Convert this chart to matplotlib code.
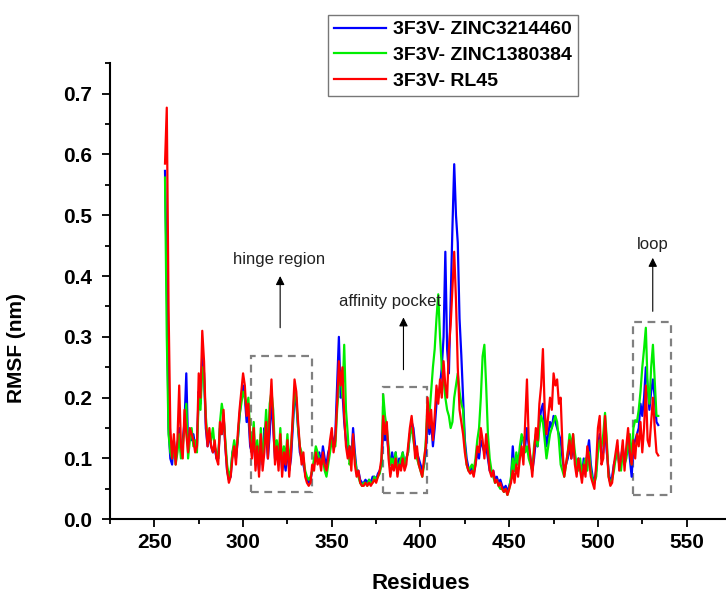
import numpy as np
import matplotlib
matplotlib.use('Agg')
import matplotlib.pyplot as plt
from matplotlib.patches import Rectangle

plt.rcParams['font.family'] = ['Liberation Sans', 'DejaVu Sans']

residues = np.arange(256, 535)

rmsf_zinc3214460 = [
    .573, .40, .15, .10, .09, .13, .10, .12, .15, .11,
    .13, .16, .24, .12, .14, .13, .14, .12, .12, .21,
    .19, .27, .24, .15, .12, .14, .12, .11, .12, .10,
    .10, .15, .14, .17, .12, .08, .065, .07, .11, .12,
    .10, .13, .17, .20, .22, .20, .16, .17, .12, .11,
    .13, .09, .11, .08, .13, .09, .15, .14, .10, .14,
    .20, .15, .10, .11, .09, .13, .08, .10, .08, .12,
    .08, .10, .15, .20, .19, .15, .11, .10, .09, .075,
    .065, .06, .065, .08, .09, .10, .10, .11, .09, .12,
    .10, .09, .11, .12, .14, .12, .14, .22, .30, .20,
    .21, .16, .13, .11, .12, .10, .15, .11, .08, .08,
    .065, .06, .06, .065, .06, .065, .06, .07, .07, .065,
    .075, .08, .09, .15, .13, .14, .11, .09, .11, .09,
    .11, .08, .10, .09, .11, .09, .10, .11, .14, .16,
    .15, .12, .11, .10, .09, .08, .09, .11, .17, .14,
    .16, .12, .15, .19, .20, .22, .25, .30, .44, .28,
    .24, .36, .48, .584, .50, .455, .33, .27, .20, .13,
    .10, .085, .08, .085, .075, .09, .11, .10, .13, .12,
    .11, .12, .10, .08, .075, .08, .065, .07, .06, .065,
    .055, .05, .055, .045, .055, .065, .12, .08, .10, .09,
    .11, .13, .134, .12, .15, .12, .10, .08, .10, .13,
    .12, .16, .18, .19, .15, .12, .14, .16, .15, .17,
    .16, .15, .14, .13, .10, .08, .09, .10, .12, .10,
    .12, .10, .08, .10, .09, .07, .10, .08, .11, .13,
    .09, .07, .06, .08, .12, .14, .10, .11, .15, .11,
    .08, .06, .07, .09, .10, .12, .09, .10, .12, .09,
    .11, .13, .10, .07, .12, .13, .14, .15, .19, .17,
    .20, .25, .22, .18, .21, .23, .20, .16, .155,
]

rmsf_zinc1380384 = [
    .562, .30, .14, .11, .10, .12, .09, .11, .14, .10,
    .12, .15, .19, .10, .13, .15, .12, .13, .11, .20,
    .18, .25, .23, .17, .13, .14, .13, .15, .12, .11,
    .10, .16, .19, .17, .13, .09, .07, .08, .11, .13,
    .11, .13, .17, .19, .21, .20, .18, .20, .14, .12,
    .16, .10, .13, .09, .15, .10, .13, .18, .12, .19,
    .21, .18, .11, .13, .10, .15, .09, .12, .10, .14,
    .09, .12, .16, .21, .20, .15, .12, .11, .10, .08,
    .07, .065, .07, .08, .10, .12, .11, .10, .09, .10,
    .08, .07, .09, .11, .13, .12, .12, .18, .22, .24,
    .20, .287, .18, .14, .09, .10, .13, .10, .08, .07,
    .06, .055, .06, .06, .055, .065, .06, .06, .07, .065,
    .07, .075, .09, .205, .17, .15, .12, .09, .10, .09,
    .11, .08, .09, .10, .11, .09, .10, .11, .14, .15,
    .13, .11, .10, .09, .08, .07, .09, .13, .19, .17,
    .21, .25, .28, .33, .37, .30, .25, .23, .20, .18,
    .17, .15, .16, .20, .22, .24, .21, .19, .18, .12,
    .09, .08, .085, .09, .08, .10, .13, .15, .20, .268,
    .287, .22, .14, .10, .08, .07, .06, .065, .055, .05,
    .05, .045, .05, .04, .05, .07, .10, .08, .11, .09,
    .12, .14, .13, .11, .12, .10, .09, .08, .12, .14,
    .12, .15, .17, .16, .13, .10, .12, .14, .15, .16,
    .17, .16, .13, .09, .08, .07, .09, .11, .14, .12,
    .14, .11, .09, .08, .10, .07, .09, .10, .08, .11,
    .08, .065, .06, .07, .11, .13, .12, .14, .175, .13,
    .07, .06, .065, .08, .10, .12, .09, .08, .11, .09,
    .10, .12, .14, .09, .15, .163, .16, .18, .21, .25,
    .28, .315, .22, .19, .25, .287, .23, .17, .17,
]

rmsf_rl45 = [
    .585, .677, .35, .15, .10, .14, .09, .13, .22, .12,
    .10, .18, .14, .11, .15, .14, .13, .11, .12, .24,
    .20, .31, .26, .16, .12, .15, .12, .11, .13, .10,
    .09, .16, .14, .18, .12, .08, .06, .07, .10, .12,
    .09, .14, .18, .21, .24, .22, .17, .19, .13, .10,
    .15, .08, .12, .07, .14, .08, .11, .16, .10, .17,
    .23, .16, .09, .12, .08, .14, .07, .11, .09, .13,
    .07, .11, .17, .23, .21, .16, .12, .09, .11, .07,
    .06, .055, .06, .09, .08, .11, .09, .10, .08, .11,
    .09, .08, .10, .13, .15, .11, .13, .19, .26, .22,
    .25, .17, .12, .10, .12, .08, .14, .09, .07, .08,
    .06, .055, .055, .06, .055, .06, .055, .06, .065, .06,
    .07, .08, .10, .17, .14, .16, .10, .07, .09, .08,
    .10, .07, .09, .08, .10, .08, .09, .12, .15, .17,
    .14, .10, .12, .09, .08, .07, .10, .12, .20, .15,
    .18, .13, .17, .22, .19, .23, .20, .26, .22, .20,
    .28, .32, .38, .44, .36, .25, .18, .16, .14, .11,
    .09, .08, .075, .08, .07, .09, .12, .11, .15, .13,
    .10, .14, .11, .08, .07, .08, .06, .065, .055, .06,
    .05, .045, .05, .04, .05, .06, .08, .06, .09, .07,
    .10, .12, .09, .16, .23, .13, .10, .07, .11, .15,
    .13, .19, .22, .28, .18, .14, .17, .20, .18, .24,
    .22, .23, .19, .20, .12, .07, .09, .11, .13, .10,
    .14, .09, .07, .10, .08, .06, .09, .07, .12, .10,
    .07, .06, .05, .09, .15, .17, .09, .10, .17, .12,
    .07, .055, .06, .09, .11, .13, .08, .10, .13, .08,
    .12, .15, .11, .09, .13, .10, .14, .12, .16, .11,
    .15, .22, .13, .12, .16, .20, .15, .11, .105,
]

series_labels = ['3F3V- ZINC3214460', '3F3V- ZINC1380384', '3F3V- RL45']
series_colors = ['#0000ff', '#00ee00', '#ff0000']

# annotated regions: (x0, x1, y0, y1), label, label position, arrow x / from / to
regions = [
    ((304.4, 338.9, 0.0455, 0.268), 'hinge region', (320.3, 0.427), (320.9, 0.315, 0.40)),
    ((378.7, 403.9, 0.043, 0.218), 'affinity pocket', (382.9, 0.358), (390.4, 0.246, 0.332)),
    ((519.5, 541.1, 0.040, 0.324), 'loop', (530.7, 0.452), (530.9, 0.342, 0.43)),
]

fig = plt.figure(figsize=(7.26, 5.94), dpi=100)
ax = fig.add_axes([110/726, 0.1258, 621/726, 0.7677])

for vals, lab, col in zip([rmsf_zinc3214460, rmsf_zinc1380384, rmsf_rl45],
                          series_labels, series_colors):
    ax.plot(residues, vals, color=col, lw=1.6, label=lab)

for (x0, x1, y0, y1), txt, (tx, ty), (ax_x, a0, a1) in regions:
    ax.add_patch(Rectangle((x0, y0), x1 - x0, y1 - y0, fill=False,
                           ec='#808080', lw=1.6, ls=(0, (3.5, 2.5))))
    ax.text(tx, ty, txt, ha='center', va='center', fontsize=12, color='#222222')
    ax.annotate('', xy=(ax_x, a1), xytext=(ax_x, a0),
                arrowprops=dict(arrowstyle='-|>', color='black', lw=0.8,
                                mutation_scale=13, shrinkA=0, shrinkB=0))

ax.set_xlim(225, 575)
ax.set_ylim(0, 0.75)
ax.set_xticks([250, 300, 350, 400, 450, 500, 550])
ax.set_xticks(np.arange(225, 576, 25), minor=True)
ax.set_yticks(np.arange(0, 0.71, 0.1))
ax.set_yticks(np.arange(0, 0.76, 0.05), minor=True)
ax.yaxis.set_major_formatter(matplotlib.ticker.FormatStrFormatter('%.1f'))

for s in ['top', 'right']:
    ax.spines[s].set_visible(False)
for s in ['left', 'bottom']:
    ax.spines[s].set_linewidth(1.5)

ax.tick_params(which='major', direction='out', length=6, width=1.3, labelsize=15)
ax.tick_params(axis='x', which='major', pad=4)
ax.tick_params(axis='y', which='major', pad=7)
ax.tick_params(which='minor', direction='out', length=3.5, width=1.3)
for t in ax.get_xticklabels() + ax.get_yticklabels():
    t.set_fontweight('bold')

ax.set_xlabel('Residues', fontsize=16, fontweight='bold')
ax.set_ylabel('RMSF (nm)', fontsize=15, fontweight='bold')
ax.xaxis.set_label_coords(0.5, -0.118)
ax.yaxis.set_label_coords(-0.135, 0.375)

leg = ax.legend(loc='upper left', bbox_to_anchor=(328/726, 1 - 15/594),
                bbox_transform=fig.transFigure, fontsize=14, frameon=True,
                fancybox=False, borderpad=0.3, labelspacing=0.42,
                handlelength=2.7, handletextpad=0.35, borderaxespad=0)
leg.get_frame().set_edgecolor('#555555')
leg.get_frame().set_linewidth(1.0)
for t in leg.get_texts():
    t.set_fontweight('bold')

fig.savefig('out.png', dpi=100)
